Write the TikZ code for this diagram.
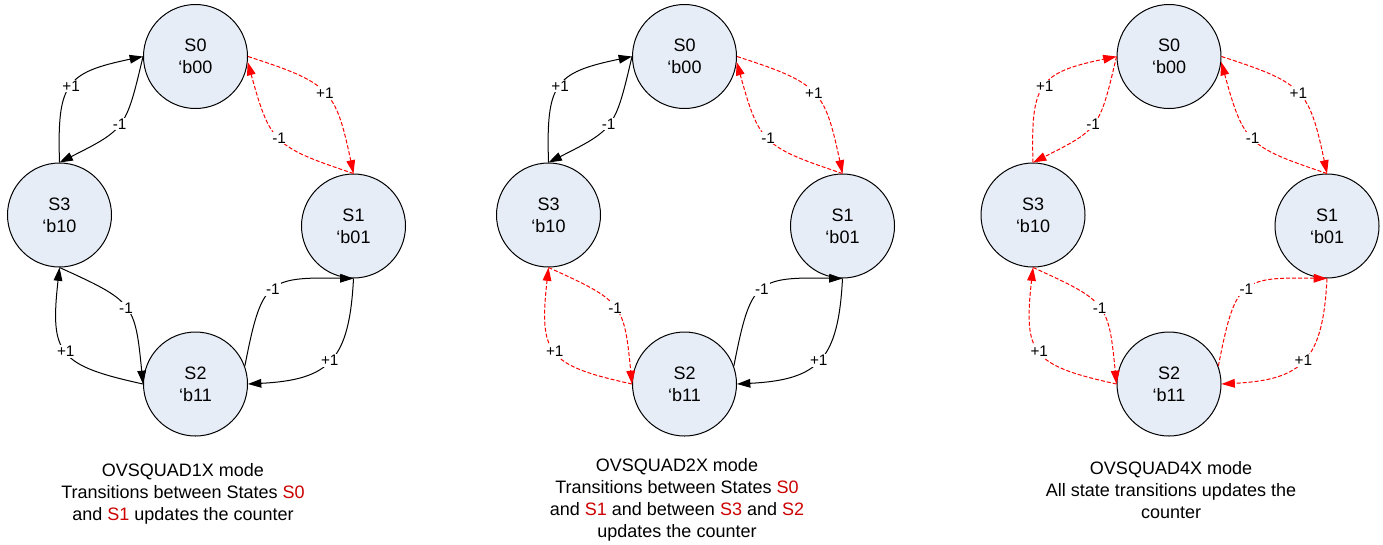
\documentclass[tikz,border=0pt]{standalone}
\usepackage{fontspec}
\setmainfont{Liberation Sans}
\usetikzlibrary{arrows.meta}

\definecolor{stfill}{RGB}{231,237,247}
\definecolor{capred}{RGB}{204,0,0}

\tikzset{
  state/.style={circle, draw, fill=stfill, line width=0.75pt, minimum size=78pt,
    inner sep=0pt, align=center, font=\fontsize{13.5}{16.5}\selectfont},
  hold/.style={draw=black, line width=0.75pt, -{Triangle[length=10pt,width=6.5pt]}},
  upd/.style={draw=red, line width=0.75pt, dash pattern=on 3pt off 1.5pt,
    -{Triangle[length=10pt,width=6.5pt]}},
  lbl/.style={fill=white, inner sep=0.8pt, text=black, font=\fontsize{11.5}{13}\selectfont},
  captext/.style={align=center, inner sep=0pt, font=\fontsize{13.5}{16.5}\selectfont},
}

\begin{document}
\begin{tikzpicture}[x=0.75pt, y=-0.75pt]
\useasboundingbox (0,0) rectangle (1383,544);

% the three modes: shift, then style of S0-S1, S1-S2, S2-S3, S3-S0
\foreach \dx/\sa/\sb/\sc/\sd in {0/upd/hold/hold/hold, 489/upd/hold/upd/hold, 973.5/upd/upd/upd/upd}{
  \begin{scope}[shift={(\dx,0)}]
    \node[state] (s0) at (195.5,56.5) {S0\\‘b00};
    \node[state] (s1) at (353.5,226) {S1\\‘b01};
    \node[state] (s2) at (195.5,384) {S2\\‘b11};
    \node[state] (s3) at (59.5,215) {S3\\‘b10};
    % S0 <-> S1
    \draw[\sa] (s0.east) to[bend left=30, looseness=1.4] node[lbl] {+1} (s1.north);
    \draw[\sa] (s1.north) to[bend left=28, looseness=1.4] node[lbl] {-1} (s0.-6);
    % S1 <-> S2
    \draw[\sb] (s1.south) to[bend left=42, looseness=1.4] node[lbl] {+1} (s2.east);
    \draw[\sb] (s2.20) to[bend left=40, looseness=1.6] node[lbl] {-1} (s1.south);
    % S2 <-> S3
    \draw[\sc] (s2.west) to[bend left=42, looseness=1.55] node[lbl] {+1} (s3.south);
    \draw[\sc] (s3.south) to[bend left=30, looseness=1.45] node[lbl] {-1} (s2.west);
    % S3 <-> S0
    \draw[\sd] (s3.north) to[bend left=40, looseness=1.5] node[lbl] {+1} (s0.west);
    \draw[\sd] (s0.west) to[bend left=25, looseness=1.4] node[lbl] {-1} (s3.north);
  \end{scope}
}

\node[captext] (cap1) at (183,494) {OVSQUAD1X mode\\Transitions between States \textcolor{capred}{S0}\\and \textcolor{capred}{S1} updates the counter};
\node[captext] (cap2) at (677,500) {OVSQUAD2X mode\\Transitions between States \textcolor{capred}{S0}\\and \textcolor{capred}{S1} and between \textcolor{capred}{S3} and \textcolor{capred}{S2}\\updates the counter};
\node[captext] (cap3) at (1171,490) {OVSQUAD4X mode\\All state transitions updates the\\counter};
\end{tikzpicture}
\end{document}
